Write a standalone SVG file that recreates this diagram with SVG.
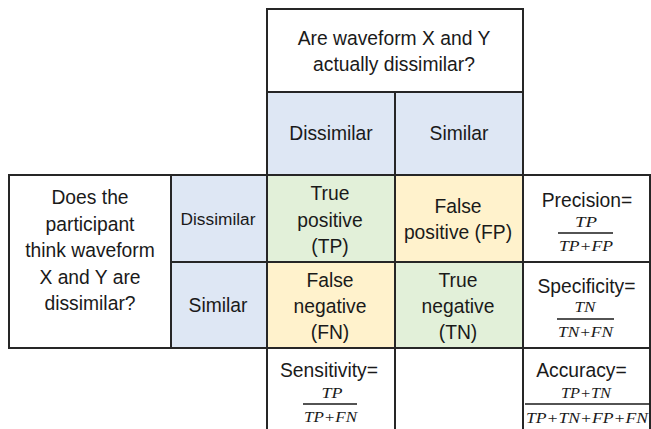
<svg xmlns="http://www.w3.org/2000/svg" width="651" height="429" viewBox="0 0 651 429">
<style>
.c{stroke:#262626;stroke-width:2}
.w{fill:#ffffff}
.b{fill:#dee7f4}
.g{fill:#e2f0d9}
.y{fill:#fff2cc}
text{font-family:"Liberation Sans",Arial,sans-serif;font-size:19.3px;fill:#1a1a1a;text-anchor:middle}
text.m{font-family:"Liberation Serif","Times New Roman",serif;font-style:italic;font-size:14px}
.fl{stroke:#1a1a1a;stroke-width:1.4}
</style>
<rect width="651" height="429" fill="#ffffff"/>
<g id="header"><rect class="c w" x="267" y="9" width="256" height="83"/><text x="394" y="45">Are waveform X and Y</text><text x="394" y="70.5">actually dissimilar?</text></g>
<g id="col-dissimilar"><rect class="c b" x="267" y="92" width="128" height="83"/><text x="331" y="140">Dissimilar</text></g>
<g id="col-similar"><rect class="c b" x="395" y="92" width="128" height="83"/><text x="459" y="140">Similar</text></g>
<g id="question"><rect class="c w" x="9" y="175" width="162" height="173"/><text x="90" y="204">Does the</text><text x="90" y="230.5">participant</text><text x="90" y="257">think waveform</text><text x="90" y="283.5">X and Y are</text><text x="90" y="309.5">dissimilar?</text></g>
<g id="row-dissimilar"><rect class="c b" x="171" y="175" width="96" height="87"/><text x="218" y="225" style="font-size:17.3px">Dissimilar</text></g>
<g id="row-similar"><rect class="c b" x="171" y="262" width="96" height="86"/><text x="218" y="312">Similar</text></g>
<g id="tp"><rect class="c g" x="267" y="175" width="128" height="87"/><text x="330" y="200">True</text><text x="330" y="226.5">positive</text><text x="330" y="252.5">(TP)</text></g>
<g id="fp"><rect class="c y" x="395" y="175" width="128" height="87"/><text x="458" y="213">False</text><text x="458" y="239">positive (FP)</text></g>
<g id="fn"><rect class="c y" x="267" y="262" width="128" height="86"/><text x="330" y="286.5">False</text><text x="330" y="313">negative</text><text x="330" y="339">(FN)</text></g>
<g id="tn"><rect class="c g" x="395" y="262" width="128" height="86"/><text x="458" y="286.5">True</text><text x="458" y="313">negative</text><text x="458" y="339">(TN)</text></g>
<g id="precision"><rect class="c w" x="523" y="175" width="127" height="87"/><text x="587" y="207">Precision=</text><text class="m" x="586" y="226.5" textLength="22" lengthAdjust="spacingAndGlyphs">TP</text><line class="fl" x1="558" y1="233" x2="613" y2="233"/><text class="m" x="586" y="251" textLength="54" lengthAdjust="spacingAndGlyphs">TP+FP</text></g>
<g id="specificity"><rect class="c w" x="523" y="262" width="127" height="86"/><text x="586.5" y="293">Specificity=</text><text class="m" x="585" y="311.5" textLength="21" lengthAdjust="spacingAndGlyphs">TN</text><line class="fl" x1="557" y1="319" x2="614" y2="319"/><text class="m" x="585.5" y="336.5" textLength="55" lengthAdjust="spacingAndGlyphs">TN+FN</text></g>
<g id="sensitivity"><rect class="c w" x="267" y="348" width="128" height="90"/><text x="329" y="377">Sensitivity=</text><text class="m" x="332" y="398" textLength="21" lengthAdjust="spacingAndGlyphs">TP</text><line class="fl" x1="303" y1="404" x2="357" y2="404"/><text class="m" x="330.5" y="422" textLength="53" lengthAdjust="spacingAndGlyphs">TP+FN</text></g>
<g id="empty"><rect class="c w" x="395" y="348" width="128" height="90"/></g>
<g id="accuracy"><rect class="c w" x="523" y="348" width="127" height="90"/><text x="581.5" y="377">Accuracy=</text><text class="m" x="586" y="398" textLength="50" lengthAdjust="spacingAndGlyphs">TP+TN</text><line class="fl" x1="525" y1="404" x2="650" y2="404"/><text class="m" x="587" y="423" textLength="122" lengthAdjust="spacingAndGlyphs">TP+TN+FP+FN</text></g>
<g id="connectors"></g>
</svg>
